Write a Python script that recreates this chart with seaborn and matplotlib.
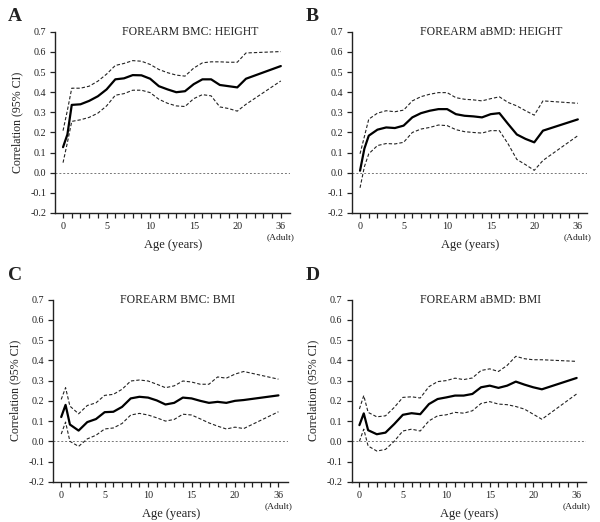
import matplotlib
matplotlib.use("Agg")
import matplotlib.pyplot as plt
import matplotlib.transforms as mtransforms
import pandas as pd
import seaborn as sns

# age points (36 = adult, drawn at slot 25 of the axis)
ages = [0, 0.5, 1, 2, 3, 4, 5, 6, 7, 8, 9, 10, 11, 12, 13, 14, 15, 16, 17,
        18, 19, 20, 21, 36]
tick_ages = [0, 5, 10, 15, 20, 36]

# A: forearm BMC vs height
bmc_height_r = [0.127, 0.19, 0.337, 0.34, 0.357, 0.38, 0.414, 0.464, 0.469,
                0.485, 0.484, 0.467, 0.43, 0.414, 0.40, 0.405, 0.44, 0.464,
                0.464, 0.436, 0.43, 0.424, 0.467, 0.53]
bmc_height_hi = [0.209, 0.31, 0.42, 0.42, 0.43, 0.455, 0.49, 0.533, 0.543,
                 0.557, 0.554, 0.538, 0.513, 0.497, 0.485, 0.48, 0.52, 0.546,
                 0.551, 0.551, 0.549, 0.549, 0.595, 0.602]
bmc_height_lo = [0.05, 0.15, 0.255, 0.263, 0.275, 0.296, 0.332, 0.385, 0.393,
                 0.41, 0.41, 0.398, 0.365, 0.345, 0.332, 0.329, 0.368, 0.388,
                 0.382, 0.327, 0.319, 0.306, 0.34, 0.456]

# B: forearm aBMD vs height
bmd_height_r = [0.01, 0.12, 0.184, 0.214, 0.225, 0.222, 0.234, 0.275, 0.296,
                0.308, 0.316, 0.316, 0.291, 0.283, 0.28, 0.275, 0.291, 0.296,
                0.242, 0.19, 0.168, 0.151, 0.209, 0.265]
bmd_height_hi = [0.094, 0.18, 0.266, 0.296, 0.308, 0.303, 0.311, 0.357, 0.378,
                 0.39, 0.398, 0.398, 0.373, 0.365, 0.362, 0.357, 0.368, 0.377,
                 0.349, 0.332, 0.308, 0.286, 0.357, 0.345]
bmd_height_lo = [-0.075, 0.03, 0.094, 0.135, 0.145, 0.143, 0.151, 0.2, 0.217,
                 0.225, 0.237, 0.234, 0.214, 0.204, 0.2, 0.197, 0.209, 0.209,
                 0.143, 0.066, 0.04, 0.012, 0.061, 0.184]

# C: forearm BMC vs BMI
bmc_bmi_r = [0.12, 0.18, 0.083, 0.053, 0.095, 0.11, 0.144, 0.146, 0.17, 0.212,
             0.22, 0.216, 0.202, 0.182, 0.19, 0.216, 0.212, 0.2, 0.19, 0.195,
             0.19, 0.2, 0.204, 0.227]
bmc_bmi_hi = [0.207, 0.265, 0.174, 0.136, 0.177, 0.19, 0.227, 0.232, 0.257,
              0.298, 0.303, 0.298, 0.282, 0.265, 0.274, 0.298, 0.293, 0.282,
              0.282, 0.318, 0.312, 0.332, 0.345, 0.307]
bmc_bmi_lo = [0.036, 0.095, 0.0, -0.025, 0.012, 0.03, 0.061, 0.066, 0.088,
              0.13, 0.138, 0.13, 0.116, 0.1, 0.108, 0.134, 0.13, 0.111, 0.091,
              0.075, 0.061, 0.07, 0.063, 0.146]

# D: forearm aBMD vs BMI
bmd_bmi_r = [0.08, 0.138, 0.055, 0.035, 0.043, 0.085, 0.131, 0.139, 0.134,
             0.184, 0.209, 0.217, 0.226, 0.226, 0.234, 0.267, 0.275, 0.264,
             0.275, 0.295, 0.28, 0.267, 0.257, 0.313]
bmd_bmi_hi = [0.16, 0.226, 0.143, 0.121, 0.126, 0.167, 0.217, 0.22, 0.214,
              0.27, 0.295, 0.3, 0.312, 0.305, 0.313, 0.35, 0.358, 0.345, 0.375,
              0.42, 0.408, 0.403, 0.403, 0.395]
bmd_bmi_lo = [0.0, 0.06, -0.023, -0.048, -0.04, 0.0, 0.051, 0.06, 0.051, 0.101,
              0.126, 0.131, 0.143, 0.139, 0.151, 0.187, 0.196, 0.184, 0.181,
              0.172, 0.159, 0.134, 0.109, 0.234]

panels = [
    ("A", "FOREARM BMC: HEIGHT", bmc_height_r, bmc_height_lo, bmc_height_hi),
    ("B", "FOREARM aBMD: HEIGHT", bmd_height_r, bmd_height_lo, bmd_height_hi),
    ("C", "FOREARM BMC: BMI", bmc_bmi_r, bmc_bmi_lo, bmc_bmi_hi),
    ("D", "FOREARM aBMD: BMI", bmd_bmi_r, bmd_bmi_lo, bmd_bmi_hi),
]


def slot(age):
    """Axis slot for an age: adult value is squeezed in after 21."""
    return 25 if age == 36 else age


sns.set_style("ticks")
plt.rcParams['font.family'] = ['Liberation Serif', 'DejaVu Serif']
plt.rcParams['text.color'] = '#222222'
plt.rcParams['axes.labelcolor'] = '#222222'
plt.rcParams['xtick.color'] = '#222222'
plt.rcParams['ytick.color'] = '#222222'

fig = plt.figure(figsize=(6, 5.22), dpi=100)

# [left, bottom, width, height] in figure fraction
boxes = [[0.092, 0.592, 0.392, 0.347],
         [0.587, 0.592, 0.392, 0.347],
         [0.089, 0.077, 0.391, 0.349],
         [0.586, 0.077, 0.391, 0.349]]
title_x = [0.574, 0.59, 0.53, 0.55]
letter_pos = [(8, 8), (306, 8), (8, 267), (306, 267)]
ylabel_on = [True, False, True, True]

for i, (letter, title, r, lo, hi) in enumerate(panels):
    ax = fig.add_axes(boxes[i])
    df = pd.DataFrame({'slot': [slot(a) for a in ages], 'r': r, 'lo': lo, 'hi': hi})

    ax.axhline(0, color='#777777', lw=0.7, ls=(0, (2, 2)), zorder=1)
    sns.lineplot(data=df, x='slot', y='hi', ax=ax, color='#222222', lw=0.8,
                 linestyle=(0, (3, 1.8)))
    sns.lineplot(data=df, x='slot', y='lo', ax=ax, color='#222222', lw=0.8,
                 linestyle=(0, (3, 1.8)))
    sns.lineplot(data=df, x='slot', y='r', ax=ax, color='black', lw=1.6)

    ax.set_xlim(-0.9, 26.1)
    ax.set_ylim(-0.2, 0.7)
    ax.set_yticks([-0.2, -0.1, 0.0, 0.1, 0.2, 0.3, 0.4, 0.5, 0.6, 0.7])
    ax.set_yticklabels(['%.1f' % v for v in ax.get_yticks()])
    ax.set_xticks(range(0, 26))
    ax.set_xticklabels([str(a) if a in tick_ages else '' for a in
                        list(range(0, 25)) + [36]])
    ax.tick_params(axis='both', labelsize=7.3, length=3.5, width=0.9, pad=3)
    for side in ['left', 'bottom']:
        ax.spines[side].set_linewidth(1.0)
        ax.spines[side].set_color('#222222')
    sns.despine(ax=ax)

    ax.set_xlabel('Age (years)', fontsize=9, labelpad=6)
    if ylabel_on[i]:
        ax.set_ylabel('Correlation (95% CI)', fontsize=8.6, labelpad=5)
    else:
        ax.set_ylabel('')

    trans = mtransforms.blended_transform_factory(ax.transData, ax.transAxes)
    ax.annotate('(Adult)', xy=(25, 0), xycoords=trans, xytext=(0, -17.5),
                textcoords='offset points', ha='center', va='center',
                fontsize=6.8)
    ax.text(title_x[i], 1.0, title, transform=ax.transAxes, ha='center',
            va='center', fontsize=8.5)
    fig.text(letter_pos[i][0] / 600, 1 - letter_pos[i][1] / 522, letter,
             ha='left', va='top', fontsize=14, fontweight='bold')

fig.savefig('out.png', dpi=100)
